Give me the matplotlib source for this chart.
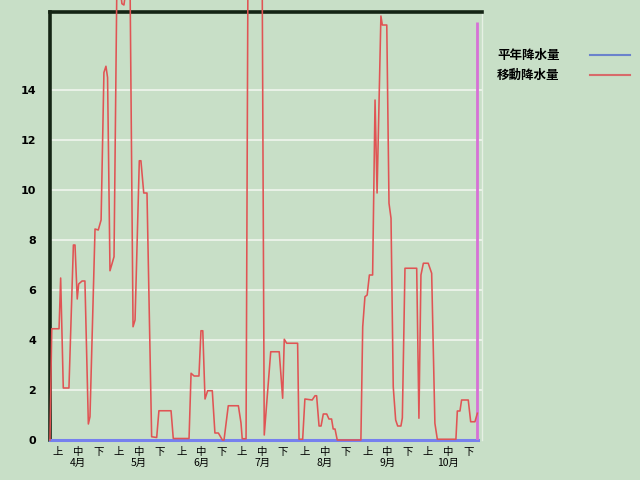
import matplotlib
matplotlib.use("Agg")
import matplotlib.pyplot as plt
from matplotlib.lines import Line2D

plt.rcParams['font.family'] = ['Noto Sans CJK JP', 'DejaVu Sans']

# ---- data (x = day number counted from April 1 = 1) ----
move_days = [1.5, 2.4, 6.0, 6.8, 8.1, 10.9, 13.1, 13.9, 15.0, 15.7, 17.4, 18.8,
             20.5, 21.3, 23.8, 25.4, 26.8, 28.2, 29.2, 30.0, 31.2, 33.2, 34.7,
             35.7, 37.1, 38.1, 39.1, 41.1, 42.6, 43.6, 45.7, 46.5, 47.9, 49.5,
             51.8, 54.3, 55.4, 61.4, 62.5, 70.3, 71.3, 72.8, 75.2, 76.2, 77.1,
             78.2, 79.5, 81.8, 83.1, 84.8, 86.8, 87.6, 89.7, 94.7, 96.0, 96.6,
             98.5, 99.5, 106.4, 107.5, 110.7, 114.9, 116.6, 117.4, 118.6, 124.0,
             124.7, 126.5, 127.6, 131.2, 132.6, 133.4, 134.6, 135.6, 136.7,
             138.4, 139.5, 140.8, 141.6, 142.5, 143.6, 155.3, 156.2, 157.3,
             158.4, 159.5, 161.1, 162.3, 163.3, 165.2, 165.9, 168.1, 169.2,
             170.2, 171.3, 172.5, 173.5, 175.1, 175.8, 177.1, 182.9, 184.0,
             185.0, 186.2, 188.6, 190.3, 191.9, 193.1, 202.3, 203.0, 204.3,
             205.1, 208.4, 209.6, 211.7, 212.9]
move_vals = [0.0, 4.45, 4.45, 6.48, 2.08, 2.08, 7.8, 7.8, 5.64, 6.24, 6.36, 6.36,
             0.64, 0.93, 8.44, 8.4, 8.8, 14.7, 14.95, 14.5, 6.77, 7.33, 19.0,
             18.5, 17.45, 17.4, 18.0, 18.5, 4.53, 4.8, 11.17, 11.17, 9.88, 9.88,
             0.13, 0.1, 1.17, 1.17, 0.06, 0.06, 2.67, 2.56, 2.56, 4.37, 4.37,
             1.64, 1.97, 1.97, 0.28, 0.28, 0.0, 0.0, 1.37, 1.37, 0.68, 0.05,
             0.05, 20.0, 20.0, 0.2, 3.53, 3.53, 1.67, 4.03, 3.87, 3.87,
             0.03, 0.03, 1.64, 1.6, 1.77, 1.77, 0.56, 0.56, 1.04,
             1.04, 0.84, 0.84, 0.44, 0.44, 0.0, 0.0, 4.53, 5.73,
             5.8, 6.6, 6.6, 13.6, 9.88, 16.96, 16.6, 16.6, 9.47,
             8.87, 2.13, 0.8, 0.56, 0.56, 0.88, 6.87, 6.87, 0.87,
             6.6, 7.07, 7.07, 6.67, 0.67, 0.03, 0.03, 1.16, 1.16,
             1.6, 1.6, 0.73, 0.73, 1.07]

normal_days = [1.5, 213.2]
normal_vals = [0.0, 0.0]

marker_day = 212.7
marker_top = 16.7

months = ['4月', '5月', '6月', '7月', '8月', '9月', '10月']
month_lengths = [30, 31, 30, 31, 31, 30, 31]
dekads = ['上', '中', '下']
yticks = [0, 2, 4, 6, 8, 10, 12, 14]
legend_labels = ['平年降水量', '移動降水量']

# ---- styling ----
bg = '#c8dfc7'
red = '#e05454'
blue = '#7680ee'

fig = plt.figure(figsize=(6.4, 4.8), dpi=100, facecolor=bg)
ax = fig.add_axes([50/640, 1-440/480, 432/640, 428/480])
ax.set_facecolor(bg)
ax.set_xlim(1.53, 215.2)
ax.set_ylim(0, 17.12)

for v in yticks[1:]:
    ax.axhline(v, color='#eaf2e8', lw=1.4, zorder=1)

ax.plot(normal_days, normal_vals, color=blue, lw=2.2, zorder=3, clip_on=False)
ax.plot(move_days, move_vals, color=red, lw=1.15, zorder=4, clip_on=False)
ax.vlines(marker_day, 0, marker_top, color='#d672d6', lw=2, zorder=3)

for s in ['left', 'top']:
    ax.spines[s].set_color('#142414')
    ax.spines[s].set_linewidth(2.6)
ax.spines['right'].set_color('#e6f0e4')
ax.spines['right'].set_linewidth(1)
ax.spines['bottom'].set_visible(False)

ax.set_yticks(yticks)
ax.set_yticklabels([str(v) for v in yticks], fontsize=8, fontweight='bold',
                   family='DejaVu Sans')
ax.tick_params(axis='y', length=0, pad=10)

# x tick labels: dekads and months
xt, xl = [], []
start = 1
for m, ml in zip(months, month_lengths):
    for j, dk in enumerate(dekads):
        xt.append(start + 4.5 + 10 * j)
        xl.append(dk)
    ax.text(start + 14.5, -0.72, m, ha='center', va='top', fontsize=7.5,
            transform=ax.transData, clip_on=False)
    start += ml
ax.set_xticks(xt)
ax.set_xticklabels(xl, fontsize=7.5)
ax.tick_params(axis='x', length=0, pad=5)

# legend
fig.text(497/640, 1-55/480, legend_labels[0], fontsize=9, fontweight='bold',
         va='center', ha='left')
fig.text(497/640, 1-75/480, legend_labels[1], fontsize=9, fontweight='bold',
         va='center', ha='left')
fig.add_artist(Line2D([590/640, 630/640], [1-55/480, 1-55/480], color='#6a82cc', lw=1.5))
fig.add_artist(Line2D([590/640, 630/640], [1-75/480, 1-75/480], color='#d86a6a', lw=1.5))

fig.savefig('out.png', dpi=100, facecolor=bg)
